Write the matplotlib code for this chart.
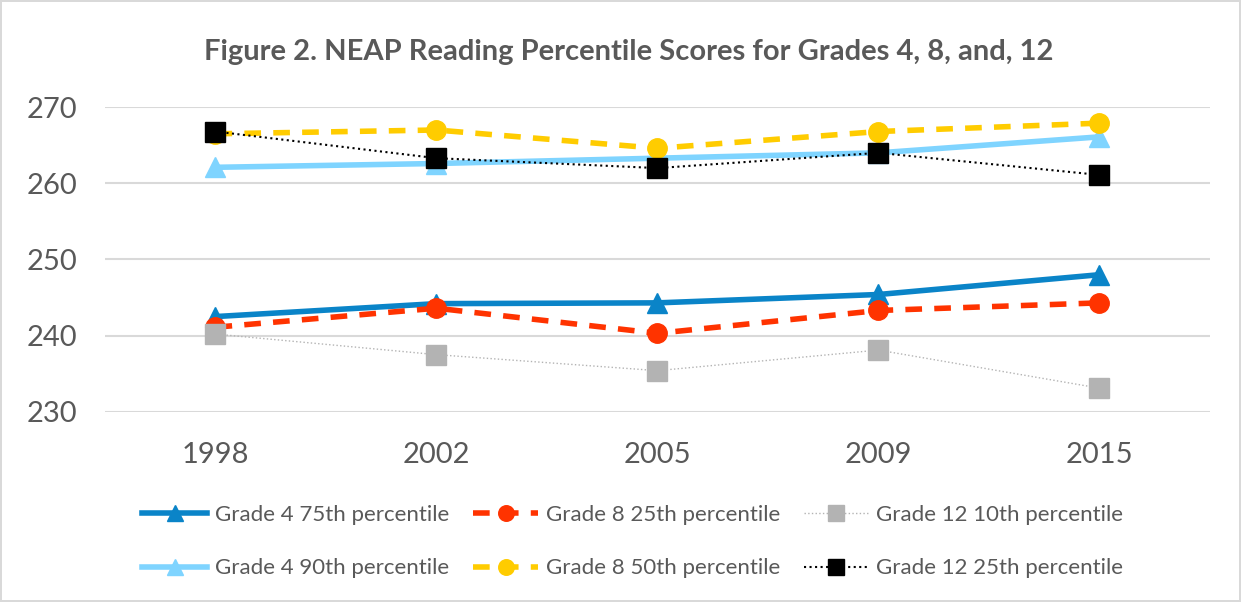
import matplotlib.pyplot as plt
import numpy as np

years = ['1998', '2002', '2005', '2009', '2015']
g4_75 = [242.5, 244.2, 244.3, 245.4, 248.0]
g4_90 = [262.1, 262.6, 263.3, 264.0, 266.1]
g8_25 = [241.1, 243.6, 240.3, 243.3, 244.3]
g8_50 = [266.5, 267.0, 264.6, 266.8, 267.9]
g12_10 = [240.2, 237.5, 235.4, 238.1, 233.1]
g12_25 = [266.8, 263.3, 262.0, 264.0, 261.1]

txt = '#595959'
plt.rcParams['font.family'] = ['Lato', 'DejaVu Sans']

fig = plt.figure(figsize=(12.41, 6.02), dpi=100)
fig.patch.set_edgecolor('#d9d9d9')
fig.patch.set_linewidth(1.5)
ax = fig.add_axes([0.0846, 0.316, 0.8904, 0.506])

x = np.arange(len(years))
ax.plot(x, g4_75, color='#0a84c8', lw=4, marker='^', ms=15, label='Grade 4 75th percentile')
ax.plot(x, g4_90, color='#7fd4ff', lw=4, marker='^', ms=15, label='Grade 4 90th percentile')
ax.plot(x, g8_25, color='#ff3300', lw=4, ls=(0, (3, 2.2)), marker='o', ms=14, label='Grade 8 25th percentile')
ax.plot(x, g8_50, color='#ffcc00', lw=4, ls=(0, (3, 2.2)), marker='o', ms=14, label='Grade 8 50th percentile')
ax.plot(x, g12_10, color='#b3b3b3', lw=1, ls=':', marker='s', ms=15, label='Grade 12 10th percentile')
ax.plot(x, g12_25, color='black', lw=1.5, ls=':', marker='s', ms=15, label='Grade 12 25th percentile')

ax.set_xlim(-0.5, len(years) - 0.5)
ax.set_ylim(230, 270)
ax.set_yticks([230, 240, 250, 260, 270])
ax.set_xticks(x)
ax.set_xticklabels(years)
ax.grid(axis='y', color='#d9d9d9', lw=1.5)
ax.set_axisbelow(True)
for s in ax.spines.values():
    s.set_visible(False)
ax.tick_params(length=0, labelsize=21, colors=txt)
ax.tick_params(axis='x', pad=22)
ax.tick_params(axis='y', pad=20)

fig.suptitle('Figure 2. NEAP Reading Percentile Scores for Grades 4, 8, and, 12',
             x=0.507, y=0.913, va='center', fontsize=21, fontweight='bold', color=txt)

leg = fig.legend(loc='center', bbox_to_anchor=(0.51, 0.1), ncol=3, frameon=False,
                 fontsize=16, handlelength=2.9, columnspacing=1.1, labelspacing=1.5,
                 handletextpad=0.35, markerscale=0.8)
for t in leg.get_texts():
    t.set_color(txt)

fig.savefig('out.png', dpi=100)
